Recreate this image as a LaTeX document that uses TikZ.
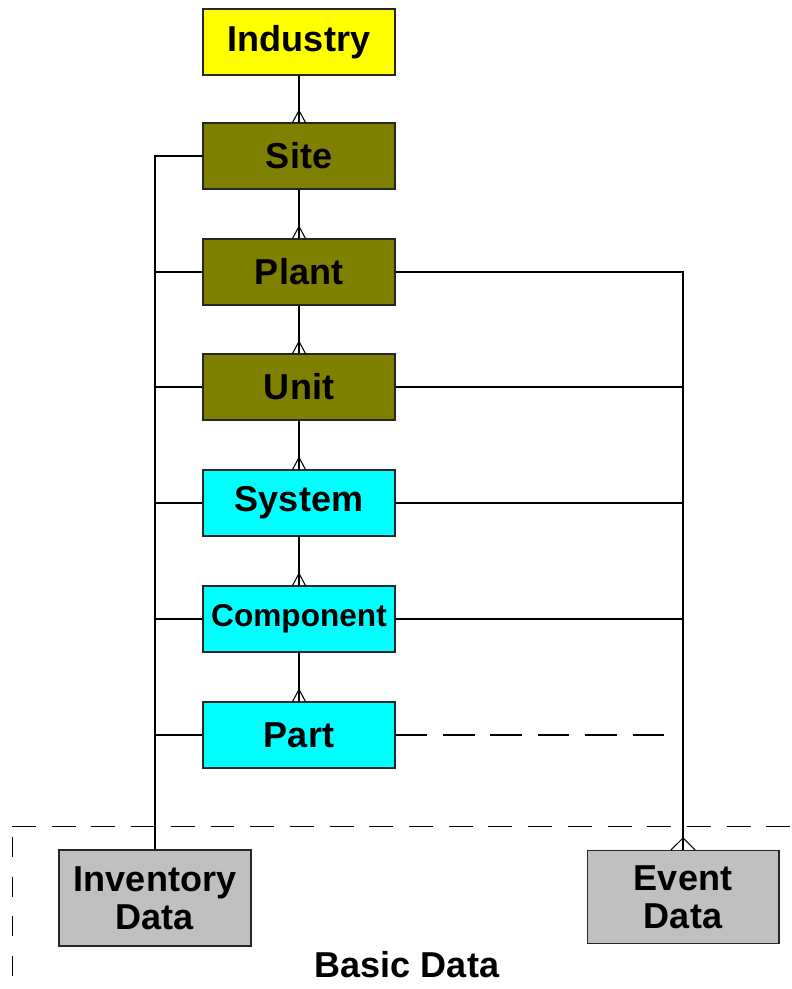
\documentclass[tikz,border=0pt]{standalone}
\usepackage{fontspec}
\setmainfont{Liberation Sans}
\definecolor{industryyellow}{HTML}{FFFF00}
\definecolor{siteolive}{HTML}{808000}
\definecolor{systemcyan}{HTML}{00FFFF}
\definecolor{datagray}{HTML}{C0C0C0}
\tikzset{
  box/.style={draw=black!85, line width=0.6pt, minimum width=3.84cm, minimum height=1.32cm,
    inner sep=0pt, font=\fontsize{20.5}{21.5}\selectfont\bfseries, align=center},
  crowfoot/.pic={\draw[line width=0.6pt] (-6.5,0) -- (0,-12) -- (6.5,0) (0,-12) -- (0,0);}
}
\begin{document}
\begin{tikzpicture}[x=0.02cm, y=-0.02cm, line width=0.6pt]
            \useasboundingbox (0,0) rectangle (791,989);
            % hierarchy
            \node[box, fill=industryyellow] (industry) at (299,42) {Industry};
            \node[box, fill=siteolive] (site) at (299,156) {Site};
            \node[box, fill=siteolive] (plant) at (299,272) {Plant};
            \node[box, fill=siteolive] (unit) at (299,387) {Unit};
            \node[box, fill=systemcyan] (system) at (299,503) {System};
            \node[box, fill=systemcyan, font=\fontsize{18}{20}\selectfont\bfseries] (component) at (299,619) {Component};
            \node[box, fill=systemcyan] (part) at (299,735) {Part};
            \node[box, fill=datagray, minimum height=1.92cm] (inventory) at (155,898) {Inventory\\Data};
            \node[box, fill=datagray, minimum height=1.86cm] (event) at (683,897) {Event\\Data};
            \node[font=\fontsize{20.5}{21.5}\selectfont\bfseries] (basic) at (407,965) {Basic Data};
            \foreach \a/\b in {industry/site,site/plant,plant/unit,unit/system,system/component,component/part}{
              \draw (\a) -- (\b);
              \pic at (\b.north) {crowfoot};
            }
            % inventory bus
            \draw (site.west) -- (site.west -| inventory.north) -- (inventory.north);
            \foreach \b in {plant,unit,system,component,part}
              \draw (\b.west) -- (\b.west -| inventory.north);
            % event bus
            \draw (plant.east) -- (plant.east -| event.north) -- (event.north);
            \foreach \b in {unit,system,component}
              \draw (\b.east) -- (\b.east -| event.north);
            \draw[dash pattern=on 18pt off 9pt] (part.east) -- ++(272,0);
            \pic[xscale=1.85] at (event.north) {crowfoot};
            % basic data boundary
            \draw[line width=0.4pt, dash pattern=on 13.6pt off 9pt] (12,826) -- (791,826);
            \draw[line width=0.4pt, dash pattern=on 11.3pt off 11.3pt] (12,837) -- (12,989);
        \end{tikzpicture}
\end{document}
